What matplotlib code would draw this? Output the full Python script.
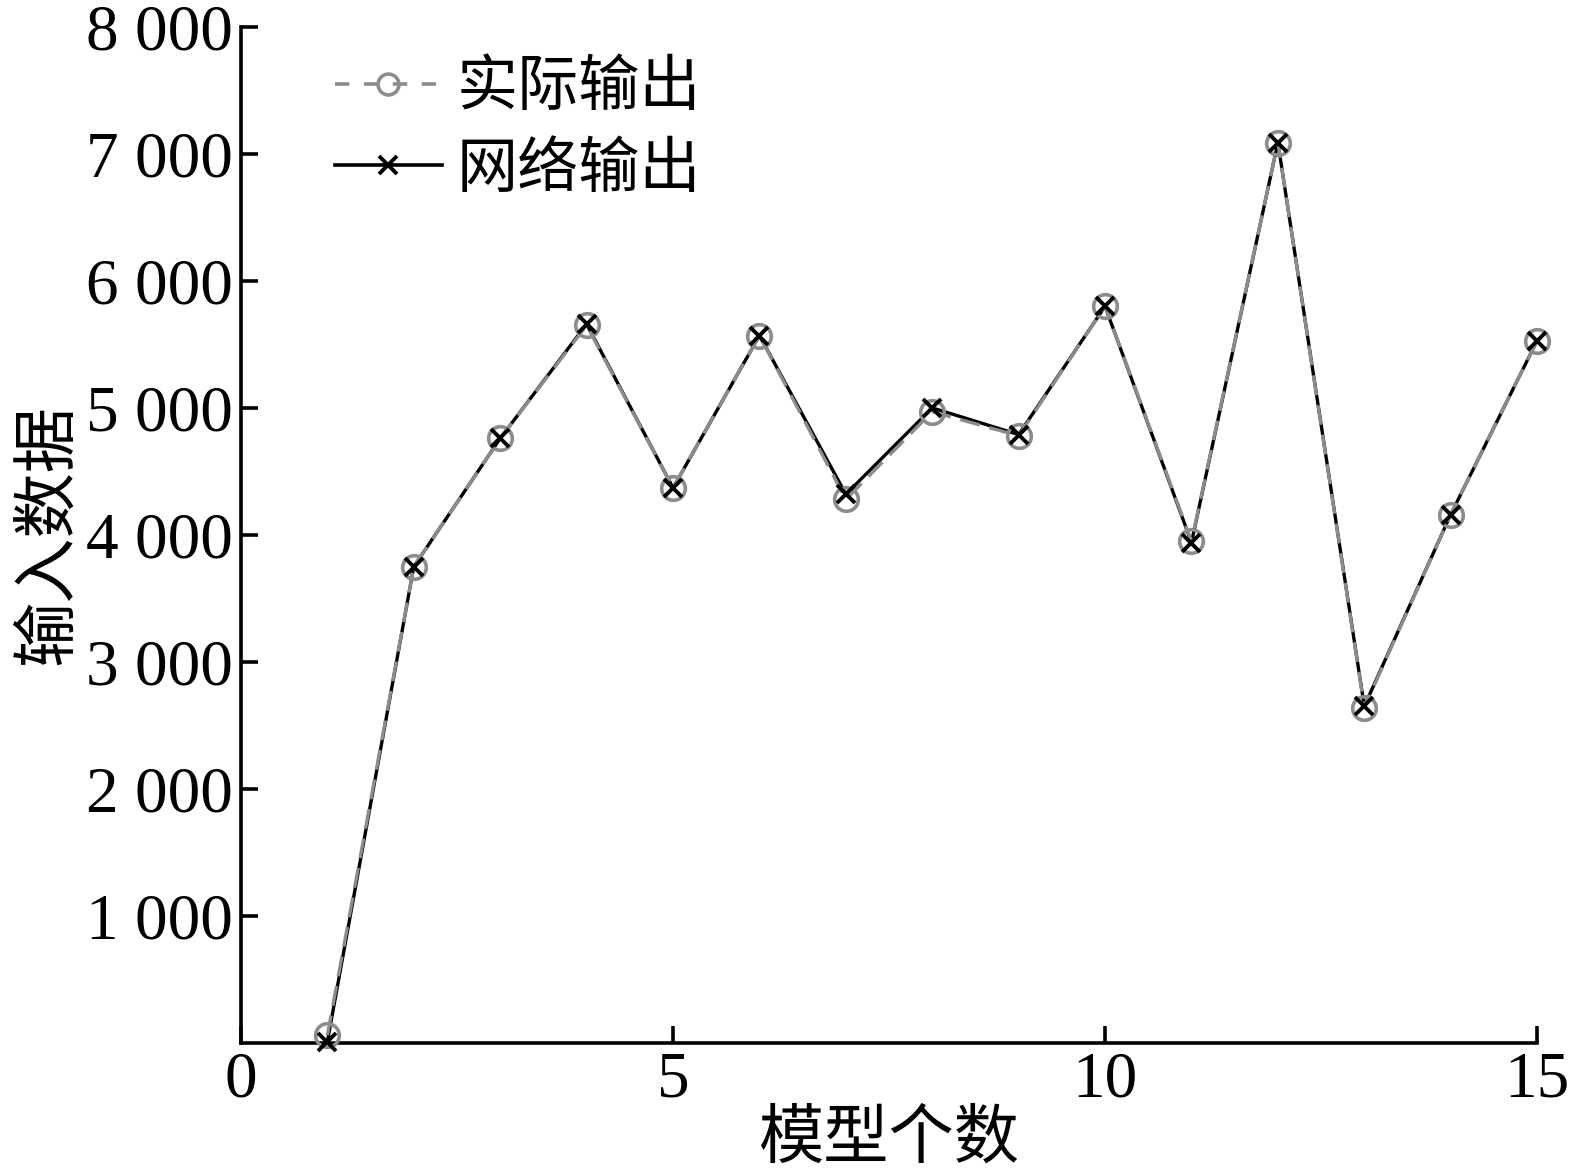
import matplotlib
matplotlib.use("Agg")
import matplotlib.pyplot as plt
from matplotlib.lines import Line2D
from matplotlib.ticker import FuncFormatter

plt.rcParams['font.family'] = ['Liberation Serif', 'Noto Sans CJK SC']

# data
model_idx = [1, 2, 3, 4, 5, 6, 7, 8, 9, 10, 11, 12, 13, 14, 15]
actual_out = [60, 3750, 4760, 5650, 4370, 5570, 4280, 4970, 4780, 5800, 3950, 7090, 2640, 4160, 5530]
network_out = [10, 3750, 4760, 5660, 4370, 5570, 4320, 5000, 4790, 5800, 3940, 7090, 2650, 4160, 5530]
x_ticks = [0, 5, 10, 15]
y_ticks = [1000, 2000, 3000, 4000, 5000, 6000, 7000, 8000]

fig = plt.figure(figsize=(15.72, 11.73), dpi=100)
ax = fig.add_axes([0.1533, 0.111, 0.8245, 0.866])

# black network line underneath, grey dashed actual line on top, crosses last
ax.plot(model_idx, network_out, color='black', linewidth=2.4, zorder=2, clip_on=False)
ax.plot(model_idx, actual_out, color='#8c8c8c', linestyle=(0, (6, 3)), linewidth=2.4,
        marker='o', markersize=17, markerfacecolor='none', markeredgecolor='#8c8c8c',
        markeredgewidth=2.6, zorder=3, clip_on=False)
ax.plot(model_idx, network_out, linestyle='none', marker='x', markersize=13,
        markeredgecolor='black', markeredgewidth=2.8, zorder=4, clip_on=False)

ax.set_xlim(0, 15)
ax.set_ylim(0, 8000)
ax.set_xticks(x_ticks)
ax.set_yticks(y_ticks)
ax.yaxis.set_major_formatter(FuncFormatter(lambda v, p: f"{int(v):,}".replace(",", " ")))

for side in ['top', 'right']:
    ax.spines[side].set_visible(False)
for side in ['left', 'bottom']:
    ax.spines[side].set_linewidth(2.6)
ax.tick_params(direction='in', length=12, width=2.6, labelsize=47, pad=6)

ax.set_xlabel("模型个数", fontsize=47, labelpad=0)
ax.set_ylabel("输入数据", fontsize=47, labelpad=4)

handles = [
    Line2D([], [], color='#8c8c8c', linestyle=(0, (4, 4)), linewidth=2.6, marker='o',
           markersize=15, markerfacecolor='none', markeredgewidth=2.6),
    Line2D([], [], color='black', linewidth=2.6, marker='x', markersize=13, markeredgewidth=2.8),
]
ax.legend(handles, ["实际输出", "网络输出"], loc='upper left', frameon=False, fontsize=44,
          handlelength=1.75, handletextpad=0.25, labelspacing=0.4,
          bbox_to_anchor=(0.03, 1.02))

fig.savefig("out.png", dpi=100)
